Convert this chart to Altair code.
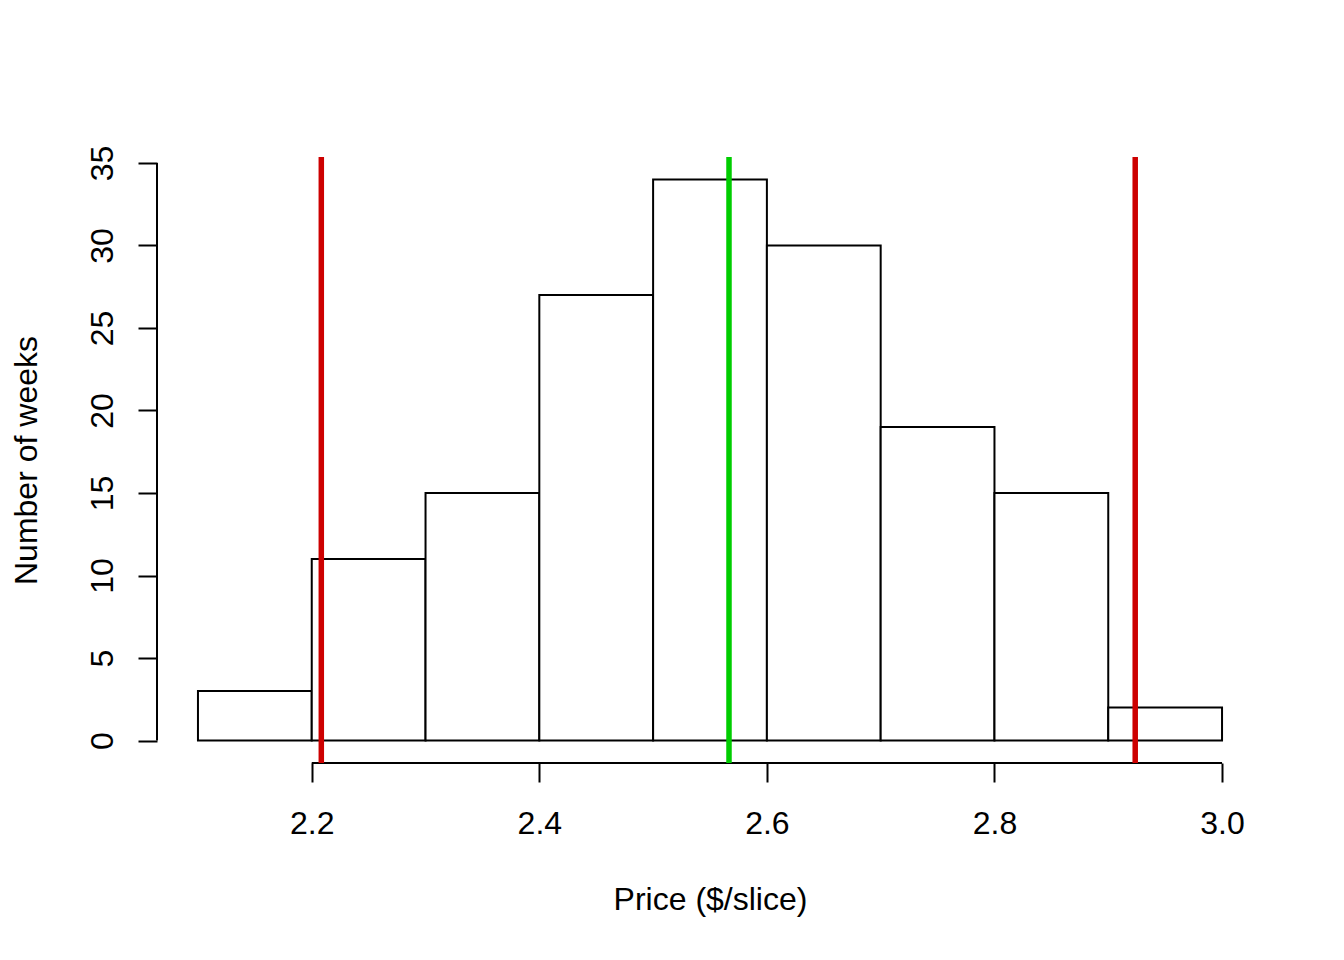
import altair as alt
import pandas as pd

# Histogram data
bin_start = [2.1, 2.2, 2.3, 2.4, 2.5, 2.6, 2.7, 2.8, 2.9]
bin_end = [2.2, 2.3, 2.4, 2.5, 2.6, 2.7, 2.8, 2.9, 3.0]
counts = [3, 11, 15, 27, 34, 30, 19, 15, 2]

# Reference lines
red_lines = [2.2084, 2.9237]
green_lines = [2.5667]

x_ticks = [2.2, 2.4, 2.6, 2.8, 3.0]
y_ticks = [0, 5, 10, 15, 20, 25, 30, 35]

X_DOMAIN = [2.064, 3.036]
Y_DOMAIN = [-1.36, 35.36]
FONT = "Liberation Sans"
FS = 32

W, H = 1106, 606

hist = pd.DataFrame({"start": bin_start, "end": bin_end, "count": counts,
                     "zero": [0] * len(counts)})

xscale = alt.Scale(domain=X_DOMAIN, nice=False, zero=False)
yscale = alt.Scale(domain=Y_DOMAIN, nice=False, zero=False)

x_axis = alt.Axis(
    values=x_ticks, format=".1f", domain=False, grid=False,
    tickSize=19, tickWidth=2, tickColor="black",
    labelFont=FONT, labelFontSize=FS, labelColor="black",
    labelBaseline="alphabetic", labelPadding=51, labelFlush=False,
    labelOverlap=False,
    title="Price ($/slice)", titleFont=FONT, titleFontSize=FS,
    titleFontWeight="normal", titleColor="black",
    titleX=W / 2, titleY=146, titleAlign="center", titleBaseline="alphabetic",
)
y_axis = alt.Axis(
    values=y_ticks, format="d", domain=False, grid=False,
    tickSize=19, tickWidth=2, tickColor="black",
    labelFont=FONT, labelFontSize=FS, labelColor="black",
    labelAngle=270, labelAlign="center", labelBaseline="alphabetic",
    labelPadding=26, labelFlush=False, labelOverlap=False,
    title="Number of weeks", titleFont=FONT, titleFontSize=FS,
    titleFontWeight="normal", titleColor="black",
    titleAngle=270, titleAlign="center", titleBaseline="alphabetic",
    titleX=-121, titleY=H / 2,
)

bars = alt.Chart(hist).mark_rect(
    fill="white", stroke="black", strokeWidth=2
).encode(
    x=alt.X("start:Q", scale=xscale, axis=x_axis),
    x2="end:Q",
    y=alt.Y("zero:Q", scale=yscale, axis=y_axis),
    y2="count:Q",
)

# custom axis lines (R style: span only first to last tick)
xline_df = pd.DataFrame({"start": [x_ticks[0]], "end": [x_ticks[-1]], "zero": [Y_DOMAIN[0]]})
xline = alt.Chart(xline_df).mark_rule(color="black", strokeWidth=2).encode(
    x=alt.X("start:Q", scale=xscale, axis=x_axis), x2="end:Q",
    y=alt.Y("zero:Q", scale=yscale, axis=y_axis),
)
yline_df = pd.DataFrame({"start": [X_DOMAIN[0]], "zero": [y_ticks[0]], "count": [y_ticks[-1]]})
yline = alt.Chart(yline_df).mark_rule(color="black", strokeWidth=2).encode(
    x=alt.X("start:Q", scale=xscale, axis=x_axis),
    y=alt.Y("zero:Q", scale=yscale, axis=y_axis), y2="count:Q",
)

red = alt.Chart(pd.DataFrame({"start": red_lines})).mark_rule(
    color="#CD0000", strokeWidth=5.5
).encode(x=alt.X("start:Q", scale=xscale, axis=x_axis))
green = alt.Chart(pd.DataFrame({"start": green_lines})).mark_rule(
    color="#00CD00", strokeWidth=5.5
).encode(x=alt.X("start:Q", scale=xscale, axis=x_axis))

chart = alt.layer(bars, xline, yline, red, green).properties(
    width=W, height=H,
    autosize=alt.AutoSizeParams(type="none"),
    padding={"left": 149, "top": 149, "right": 60, "bottom": 170},
).configure(background="white").configure_view(strokeWidth=0, stroke=None)

chart.save("out.html", embed_options={"renderer": "svg", "actions": False})
